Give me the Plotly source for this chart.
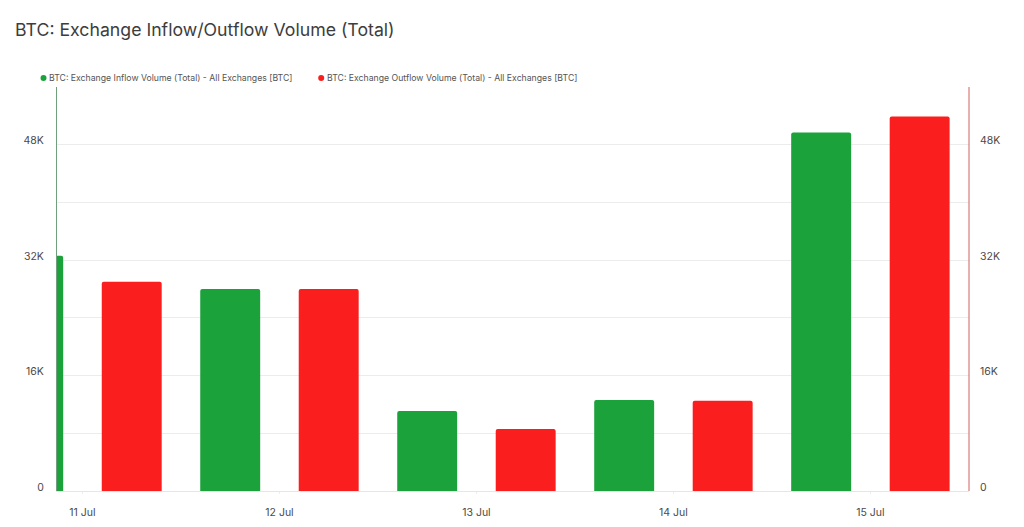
import datetime as dt
import plotly.graph_objects as go

dates = ["2024-07-11", "2024-07-12", "2024-07-13", "2024-07-14", "2024-07-15"]
day_labels = ["11 Jul", "12 Jul", "13 Jul", "14 Jul", "15 Jul"]
inflow = [32600, 28000, 11100, 12600, 49700]
outflow = [29000, 28000, 8600, 12500, 51900]
y_ticks = [0, 8000, 16000, 24000, 32000, 40000, 48000, 56000]
y_labels = ["0", "", "16K", "", "32K", "", "48K", ""]
inflow_name = "BTC: Exchange Inflow Volume (Total) - All Exchanges [BTC]"
outflow_name = "BTC: Exchange Outflow Volume (Total) - All Exchanges [BTC]"
title = "BTC: Exchange Inflow/Outflow Volume (Total)"

GREEN = "#1ca23b"
RED = "#fb1e1e"
FONT = "Inter, Roboto, sans-serif"
DAY_MS = 86400000
PX_DAY = 197.2
W, H = 1024, 527
L, R, T, B = 56.5, 969.5, 87, 491
bar_w = 60 / PX_DAY * DAY_MS
off = 49.3 / PX_DAY * DAY_MS

fig = go.Figure()
fig.add_trace(go.Bar(x=dates, y=inflow, name=inflow_name, marker=dict(color=GREEN, line=dict(width=0)),
                     width=bar_w, offset=-off - bar_w / 2, showlegend=False, yaxis="y"))
fig.add_trace(go.Bar(x=dates, y=outflow, name=outflow_name, marker=dict(color=RED, line=dict(width=0)),
                     width=bar_w, offset=off - bar_w / 2, showlegend=False, yaxis="y2"))

yax = dict(range=[0, 56000], tickmode="array", tickvals=y_ticks, ticktext=y_labels,
           showgrid=True, gridcolor="#ececec", gridwidth=1, zeroline=False, automargin=False,
           tickfont=dict(family=FONT, size=10.5, color="#4a4a4a"), ticks="",
           ticklabelshift=-4, ticklabelstandoff=10, fixedrange=True)

d0 = dt.datetime(2024, 7, 11) + dt.timedelta(milliseconds=-25.5 / PX_DAY * DAY_MS)
d1 = dt.datetime(2024, 7, 15) + dt.timedelta(milliseconds=(913 - 25.5 - 4 * PX_DAY) / PX_DAY * DAY_MS)

px = lambda v: (v - L) / (R - L)
py = lambda v: (B - v) / (B - T)

fig.update_layout(
    width=W, height=H, autosize=False,
    margin=dict(l=L, r=W - R, t=T, b=H - B, pad=0),
    paper_bgcolor="white", plot_bgcolor="white",
    barmode="overlay", barcornerradius=2, showlegend=False,
    font=dict(family=FONT),
    xaxis=dict(type="date", range=[d0, d1], tickmode="array", tickvals=dates, ticktext=day_labels,
               showgrid=False, zeroline=False, showline=True, linecolor="#e6e6e6", linewidth=1,
               automargin=False, ticks="outside", ticklen=2, tickcolor="#eeeeee", ticklabelstandoff=9,
               tickfont=dict(family=FONT, size=10.5, color="#4a4a4a")),
    yaxis=dict(side="left", showline=True, linewidth=1, linecolor="#6f9f7d", **yax),
    yaxis2=dict(side="right", overlaying="y", anchor="x", showline=False, **yax),
    annotations=[
        dict(text=title, xref="paper", yref="paper", x=px(12), y=py(29),
             xanchor="left", yanchor="middle", showarrow=False,
             font=dict(family=FONT, size=17.7, color="#3d3d3d")),
        dict(text=inflow_name, xref="paper", yref="paper", x=px(46), y=py(78),
             xanchor="left", yanchor="middle", showarrow=False,
             font=dict(family=FONT, size=8.7, color="#555555")),
        dict(text=outflow_name, xref="paper", yref="paper", x=px(325), y=py(78),
             xanchor="left", yanchor="middle", showarrow=False,
             font=dict(family=FONT, size=8.7, color="#555555")),
    ],
    shapes=[
        dict(type="circle", xref="paper", yref="paper", xsizemode="pixel", ysizemode="pixel",
             xanchor=px(43), yanchor=py(78), x0=-3, x1=3, y0=-3, y1=3,
             fillcolor=GREEN, line=dict(width=0)),
        dict(type="circle", xref="paper", yref="paper", xsizemode="pixel", ysizemode="pixel",
             xanchor=px(321), yanchor=py(78), x0=-3, x1=3, y0=-3, y1=3,
             fillcolor=RED, line=dict(width=0)),
        dict(type="line", xref="paper", yref="paper", x0=1, x1=1, y0=0, y1=1,
             line=dict(color="#d0605f", width=1)),
    ],
)
fig.write_html("out.html", config=dict(displayModeBar=False),
               post_script="document.body.style.margin='0';document.body.style.overflow='hidden';")
